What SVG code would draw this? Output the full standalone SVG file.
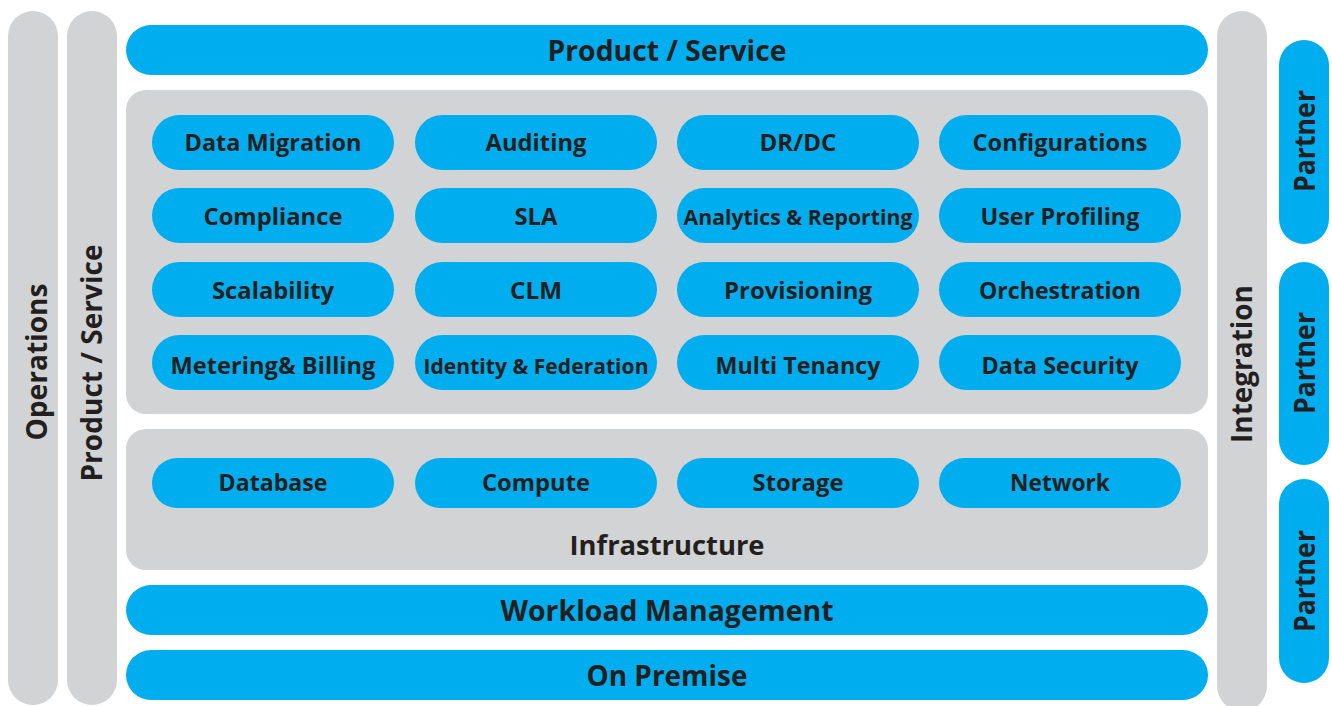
<svg xmlns="http://www.w3.org/2000/svg" width="1332" height="706" viewBox="0 0 1332 706">
<style>
.g{fill:#D1D3D4}
.b{fill:#00ADEE}
text{font-family:"Open Sans","Liberation Sans",sans-serif;font-weight:700;fill:#231F20;text-anchor:middle}
.t{font-size:23px}
.h{font-size:28px}
.v{font-size:28px}
</style>
<rect width="1332" height="706" fill="#FFFFFF"/>
<g id="operations"><rect class="g" x="8" y="11" width="50" height="694" rx="25"/><text class="v" transform="translate(47,362) rotate(-90)" textLength="157" lengthAdjust="spacingAndGlyphs">Operations</text></g>
<g id="product-service-side"><rect class="g" x="67" y="11" width="50" height="694" rx="25"/><text class="v" transform="translate(102,363) rotate(-90)" textLength="237" lengthAdjust="spacingAndGlyphs">Product / Service</text></g>
<g id="integration"><rect class="g" x="1217" y="11" width="50" height="700" rx="25"/><text class="v" transform="translate(1252,364) rotate(-90)" textLength="158" lengthAdjust="spacingAndGlyphs">Integration</text></g>
<g id="partner1"><rect class="b" x="1279" y="40" width="50" height="204" rx="25"/><text class="v" transform="translate(1315,141) rotate(-90)" textLength="102" lengthAdjust="spacingAndGlyphs">Partner</text></g>
<g id="partner2"><rect class="b" x="1279" y="262" width="50" height="203" rx="25"/><text class="v" transform="translate(1315,363) rotate(-90)" textLength="102" lengthAdjust="spacingAndGlyphs">Partner</text></g>
<g id="partner3"><rect class="b" x="1279" y="479" width="50" height="204" rx="25"/><text class="v" transform="translate(1315,581) rotate(-90)" textLength="102" lengthAdjust="spacingAndGlyphs">Partner</text></g>
<g id="product-service-top"><rect class="b" x="126" y="25" width="1082" height="50" rx="25"/><text class="h" x="667" y="61" textLength="239" lengthAdjust="spacingAndGlyphs">Product / Service</text></g>
<g id="services-panel"><rect class="g" x="126" y="90" width="1082" height="324" rx="20"/></g>
<g id="data-migration"><rect class="b" x="152" y="115" width="242" height="55" rx="27.5"/><text class="t" x="273" y="151" textLength="177" lengthAdjust="spacingAndGlyphs">Data Migration</text></g>
<g id="auditing"><rect class="b" x="415" y="115" width="242" height="55" rx="27.5"/><text class="t" x="536" y="151" textLength="101" lengthAdjust="spacingAndGlyphs">Auditing</text></g>
<g id="drdc"><rect class="b" x="677" y="115" width="242" height="55" rx="27.5"/><text class="t" x="798" y="151" textLength="77" lengthAdjust="spacingAndGlyphs">DR/DC</text></g>
<g id="configurations"><rect class="b" x="939" y="115" width="242" height="55" rx="27.5"/><text class="t" x="1060" y="151" textLength="175" lengthAdjust="spacingAndGlyphs">Configurations</text></g>
<g id="compliance"><rect class="b" x="152" y="188" width="242" height="55" rx="27.5"/><text class="t" x="273" y="225" textLength="139" lengthAdjust="spacingAndGlyphs">Compliance</text></g>
<g id="sla"><rect class="b" x="415" y="188" width="242" height="55" rx="27.5"/><text class="t" x="536" y="225" textLength="43" lengthAdjust="spacingAndGlyphs">SLA</text></g>
<g id="analytics"><rect class="b" x="677" y="188" width="242" height="55" rx="27.5"/><text class="t" x="798" y="225" textLength="229" lengthAdjust="spacingAndGlyphs" style="font-size:21px">Analytics &amp; Reporting</text></g>
<g id="user-profiling"><rect class="b" x="939" y="188" width="242" height="55" rx="27.5"/><text class="t" x="1060" y="225" textLength="159" lengthAdjust="spacingAndGlyphs">User Profiling</text></g>
<g id="scalability"><rect class="b" x="152" y="262" width="242" height="55" rx="27.5"/><text class="t" x="273" y="299" textLength="122" lengthAdjust="spacingAndGlyphs">Scalability</text></g>
<g id="clm"><rect class="b" x="415" y="262" width="242" height="55" rx="27.5"/><text class="t" x="536" y="299" textLength="52" lengthAdjust="spacingAndGlyphs">CLM</text></g>
<g id="provisioning"><rect class="b" x="677" y="262" width="242" height="55" rx="27.5"/><text class="t" x="798" y="299" textLength="148" lengthAdjust="spacingAndGlyphs">Provisioning</text></g>
<g id="orchestration"><rect class="b" x="939" y="262" width="242" height="55" rx="27.5"/><text class="t" x="1060" y="299" textLength="162" lengthAdjust="spacingAndGlyphs">Orchestration</text></g>
<g id="metering"><rect class="b" x="152" y="335" width="242" height="55" rx="27.5"/><text class="t" x="273" y="374" textLength="205" lengthAdjust="spacingAndGlyphs">Metering&amp; Billing</text></g>
<g id="identity"><rect class="b" x="415" y="335" width="242" height="55" rx="27.5"/><text class="t" x="536" y="374" textLength="225" lengthAdjust="spacingAndGlyphs" style="font-size:21px">Identity &amp; Federation</text></g>
<g id="multi-tenancy"><rect class="b" x="677" y="335" width="242" height="55" rx="27.5"/><text class="t" x="798" y="374" textLength="165" lengthAdjust="spacingAndGlyphs">Multi Tenancy</text></g>
<g id="data-security"><rect class="b" x="939" y="335" width="242" height="55" rx="27.5"/><text class="t" x="1060" y="374" textLength="157" lengthAdjust="spacingAndGlyphs">Data Security</text></g>
<g id="infrastructure"><rect class="g" x="126" y="429" width="1082" height="141" rx="20"/><text class="h" x="667" y="555" textLength="195" lengthAdjust="spacingAndGlyphs" style="font-size:26px">Infrastructure</text></g>
<g id="database"><rect class="b" x="152" y="458" width="242" height="50" rx="25"/><text class="t" x="273" y="491" textLength="109" lengthAdjust="spacingAndGlyphs">Database</text></g>
<g id="compute"><rect class="b" x="415" y="458" width="242" height="50" rx="25"/><text class="t" x="536" y="491" textLength="108" lengthAdjust="spacingAndGlyphs">Compute</text></g>
<g id="storage"><rect class="b" x="677" y="458" width="242" height="50" rx="25"/><text class="t" x="798" y="491" textLength="91" lengthAdjust="spacingAndGlyphs">Storage</text></g>
<g id="network"><rect class="b" x="939" y="458" width="242" height="50" rx="25"/><text class="t" x="1060" y="491" textLength="100" lengthAdjust="spacingAndGlyphs">Network</text></g>
<g id="workload"><rect class="b" x="126" y="585" width="1082" height="50" rx="25"/><text class="h" x="667" y="621" textLength="333" lengthAdjust="spacingAndGlyphs">Workload Management</text></g>
<g id="on-premise"><rect class="b" x="126" y="650" width="1082" height="50" rx="25"/><text class="h" x="667" y="686" textLength="161" lengthAdjust="spacingAndGlyphs">On Premise</text></g>
<g id="connectors"></g>
</svg>
